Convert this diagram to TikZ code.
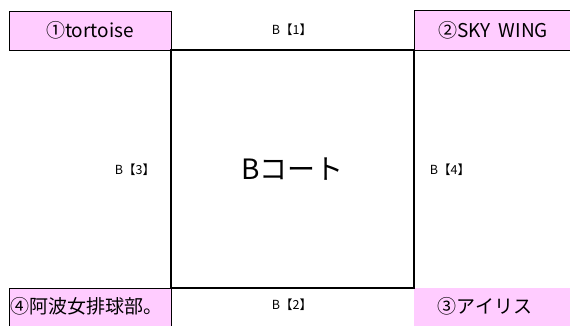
\documentclass[tikz,border=0pt]{standalone}
\usepackage{fontspec}
\setmainfont{Noto Sans CJK JP}
\definecolor{teampink}{HTML}{FFCCFF}
\begin{document}
\begin{tikzpicture}[x=1pt,y=-1pt,
  team/.style={fill=teampink,draw=black,line width=0.9pt},
  teamtext/.style={font=\fontsize{19}{22}\selectfont,inner sep=0pt},
  side/.style={font=\fontsize{12.5}{14}\selectfont,inner sep=0pt},
  court/.style={draw=black,line width=2.8pt}]
\useasboundingbox (0,0) rectangle (570,325);
\fill[white] (0,0) rectangle (570,325);
% team boxes
\path[team] (9,11) rectangle (171,50);
\path[team] (414,10) rectangle (571,50);
\path[team] (9,288) rectangle (171,327);
\path[fill=teampink] (414,288) rectangle (571,327);
\node[teamtext] (t1) at (90,30) {①tortoise};
\node[teamtext] (t2) at (493,30) {②SKY\ \ WING};
\node[teamtext,anchor=west] (t4) at (10,306) {④阿波女排球部。};
\node[teamtext] (t3) at (485,306) {③アイリス};
% court
\node[court,minimum width=243pt,minimum height=238pt,inner sep=0pt,
  font=\fontsize{28}{32}\selectfont] (court) at (292.5,169) {Bコート};
\node[side] (b1) at (292,30) {B【1】};
\node[side] (b2) at (292,305) {B【2】};
\node[side] (b3) at (135,170) {B【3】};
\node[side] (b4) at (450,170) {B【4】};
\end{tikzpicture}
\end{document}
